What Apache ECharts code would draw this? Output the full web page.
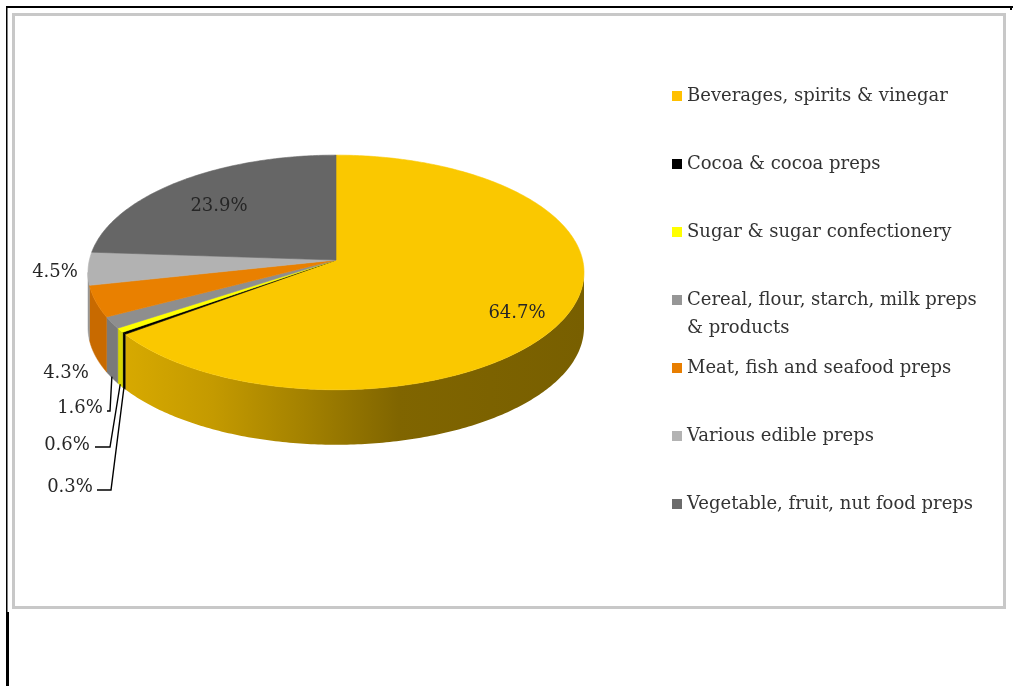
<!DOCTYPE html>
<html>
<head>
<meta charset="utf-8">
<script src="https://cdn.jsdelivr.net/npm/echarts@6/dist/echarts.min.js"></script>
<style>
  html, body { margin: 0; padding: 0; background: #ffffff; }
  #chart { width: 1013px; height: 686px; }
</style>
</head>
<body>
<div id="chart"></div>
<script>
// Food preparation exports by product group, share of total (%)
const categories = [
  'Beverages, spirits & vinegar',
  'Cocoa & cocoa preps',
  'Sugar & sugar confectionery',
  'Cereal, flour, starch, milk preps & products',
  'Meat, fish and seafood preps',
  'Various edible preps',
  'Vegetable, fruit, nut food preps'
];
const shares = [64.7, 0.3, 0.6, 1.6, 4.3, 4.5, 23.9];
// Legend text (long names wrapped onto a second line)
const legendText = [
  'Beverages, spirits & vinegar',
  'Cocoa & cocoa preps',
  'Sugar & sugar confectionery',
  'Cereal, flour, starch, milk preps\n& products',
  'Meat, fish and seafood preps',
  'Various edible preps',
  'Vegetable, fruit, nut food preps'
];

// Colours: top face, outer wall, legend key
const topColors = ['#FAC800', '#000000', '#FFFF00', '#8E8E8E', '#E98000', '#B2B2B2', '#666666'];
const wallColors = [null, '#000000', '#D6D600', '#7A7A7A', '#C86A00', '#969696', '#555555'];
const keyColors = ['#FFC000', '#000000', '#FFFF00', '#969696', '#E87E00', '#B3B3B3', '#6B6B6B'];

const FONT = '"DejaVu Serif", "Liberation Serif", serif';
const TEXT = '#262626';

// Tilted-disc geometry of the 3D pie (screen pixels)
const PIE = { cx: 336, cy: 260, rx: 246.6, ry: 116, persp: 0.106, depth: 55 };

// Label placement: centre of each value label; leader lines run from the
// slice's lower rim to an elbow at x = elbow, then across to x = end.
const labelLayout = [
  { x: 517, y: 313 },
  { x: 70,  y: 487, leader: { elbow: 111, end: 97, dy: 3 } },
  { x: 67,  y: 445, leader: { elbow: 110, end: 95, dy: 2 } },
  { x: 80,  y: 408, leader: { elbow: 110, end: 107, dy: 3 } },
  { x: 66,  y: 373 },
  { x: 55,  y: 272 },
  { x: 219, y: 206 }
];

const total = shares.reduce((a, b) => a + b, 0);
const starts = [];
shares.reduce((acc, v, i) => { starts[i] = acc; return acc + v; }, 0);

// Project a point of the disc (radius fraction, angle clockwise from 12 o'clock)
function project(frac, deg, drop) {
  const t = deg * Math.PI / 180;
  const s = Math.sin(t) * frac, c = Math.cos(t) * frac;
  const k = 1 / (1 + PIE.persp * c);
  return [PIE.cx + PIE.rx * s * k, PIE.cy - PIE.ry * c * k + (drop || 0)];
}
function arc(a0, a1, drop) {
  const n = Math.max(2, Math.ceil(Math.abs(a1 - a0) / 0.75) + 1);
  const pts = [];
  for (let j = 0; j < n; j++) pts.push(project(1, a0 + (a1 - a0) * j / (n - 1), drop));
  return pts;
}

// Front part of the rim that is visible (silhouette tangents)
const tangent = Math.acos(-PIE.persp) * 180 / Math.PI;
const VIS_A = tangent, VIS_B = 360 - tangent;

const beverageWall = {
  type: 'linear', global: true, x: 120, y: 0, x2: 584, y2: 0,
  colorStops: [
    { offset: 0, color: '#D8AA00' },
    { offset: 0.2, color: '#C49A00' },
    { offset: 0.4, color: '#A38100' },
    { offset: 0.6, color: '#806500' },
    { offset: 1, color: '#785F00' }
  ]
};

function renderSlice(i, start, value) {
  const a0 = start / total * 360;
  const a1 = (start + value) / total * 360;
  const children = [];

  // outer wall
  const s0 = Math.max(a0, VIS_A), s1 = Math.min(a1, VIS_B);
  if (s1 > s0) {
    const upper = arc(s0, s1, 0);
    const lower = arc(s1, s0, PIE.depth);
    children.push({
      type: 'polygon',
      shape: { points: upper.concat(lower) },
      style: { fill: i === 0 ? beverageWall : wallColors[i], stroke: i === 0 ? null : wallColors[i], lineWidth: 0.5 },
      z2: 1
    });
  }

  // top face
  const top = [[PIE.cx, PIE.cy]].concat(arc(a0, a1, 0));
  children.push({
    type: 'polygon',
    shape: { points: top },
    style: { fill: topColors[i], stroke: topColors[i], lineWidth: 0.6 },
    z2: 10
  });

  // value label
  const lay = labelLayout[i];
  children.push({
    type: 'text',
    x: lay.x, y: lay.y,
    style: {
      text: value.toFixed(1) + '%',
      font: '18px ' + FONT,
      fill: TEXT,
      align: 'center',
      verticalAlign: 'middle'
    },
    z2: 100
  });

  // leader line for the narrow slices
  if (lay.leader) {
    const mid = (a0 + a1) / 2;
    const p0 = project(1, mid, PIE.depth - 1);
    const ly = lay.y + lay.leader.dy;
    children.push({
      type: 'polyline',
      shape: { points: [p0, [lay.leader.elbow, ly], [lay.leader.end, ly]] },
      style: { stroke: '#000000', lineWidth: 1.4, fill: null },
      z2: 90
    });
  }

  return { type: 'group', children };
}

// One legend block per category; a wrapped name gets blank lines in front so
// that its key square lines up with the first line of text.
const LINE_H = 28;
const legends = categories.map((name, i) => {
  const lines = legendText[i].split('\n').length;
  const shown = '\n'.repeat(lines - 1) + legendText[i];
  const blockLines = 2 * lines - 1;
  const centre = 96 + 68 * i;
  return {
    data: [name],
    orient: 'vertical',
    left: 672,
    top: centre - (LINE_H * blockLines) / 2,
    padding: 0,
    itemGap: 0,
    itemWidth: 10,
    itemHeight: 10,
    icon: 'rect',
    selectedMode: false,
    formatter: () => shown,
    textStyle: {
      fontFamily: FONT,
      fontSize: 18,
      color: '#333333',
      lineHeight: LINE_H
    }
  };
});

const chart = echarts.init(document.getElementById('chart'), null, { renderer: 'canvas' });
chart.setOption({
  animation: false,
  backgroundColor: '#ffffff',
  legend: legends,
  graphic: [
    // page rules around the chart box
    { type: 'rect', shape: { x: 6, y: 6, width: 1007, height: 2 }, style: { fill: '#000000' }, z: 0 },
    { type: 'rect', shape: { x: 6, y: 6, width: 1.5, height: 608 }, style: { fill: '#000000' }, z: 0 },
    { type: 'rect', shape: { x: 6, y: 612, width: 3, height: 74 }, style: { fill: '#000000' }, z: 0 },
    { type: 'rect', shape: { x: 1010, y: 6, width: 2, height: 4 }, style: { fill: '#000000' }, z: 0 },
    // chart area border
    { type: 'rect', shape: { x: 13.5, y: 14.5, width: 991, height: 593 },
      style: { fill: '#ffffff', stroke: '#C8C8C8', lineWidth: 3 }, z: 0 }
  ],
  series: categories.map((name, i) => ({
    type: 'custom',
    name: name,
    coordinateSystem: 'none',
    silent: true,
    itemStyle: { color: keyColors[i] },
    data: [[starts[i], shares[i]]],
    renderItem: (params, api) => renderSlice(i, api.value(0), api.value(1))
  }))
});
</script>
</body>
</html>
